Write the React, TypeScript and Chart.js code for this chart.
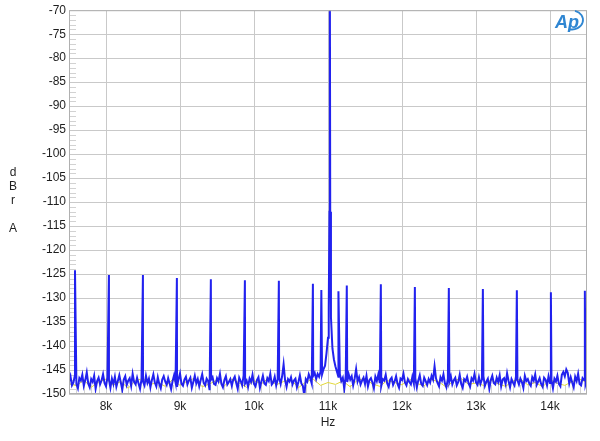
import { useEffect, useRef } from 'react';
import { Chart, registerables } from 'chart.js';

Chart.register(...registerables);

// ---------- data ----------
const xTickHz = [8000, 9000, 10000, 11000, 12000, 13000, 14000];
const xMinHz = 7500;
const xMaxHz = 14500;
const yMinDb = -150;
const yMaxDb = -70;
const yStepDb = 5;
const yAxisTitle = ['d', 'B', 'r', '', 'A'];
const xAxisTitle = 'Hz';

// right channel (blue) noise floor, FFT bins from 7500 Hz every 20 Hz
const blueStartHz = 7500;
const blueStepHz = 20;
const blueNoiseDb = [
  -147.4, -146.3, -148.2, -147.6, -146.1, -147.9, -148.8, -146.7, -147.2, -146.0,
  -148.3, -147.1, -145.5, -147.8, -148.6, -146.9, -147.5, -146.2, -148.9, -147.3,
  -146.6, -148.0, -147.2, -145.9, -147.7, -148.4, -146.5, -147.0, -148.7, -146.8,
  -147.9, -146.4, -148.5, -147.3, -146.1, -147.6, -149.1, -147.0, -146.3, -148.1,
  -147.2, -146.7, -148.3, -145.8, -147.5, -148.0, -146.6, -147.8, -148.9, -146.9,
  -147.4, -148.2, -146.2, -147.7, -146.8, -148.6, -147.1, -145.9, -147.6, -148.4,
  -146.5, -147.9, -148.8, -147.0, -146.3, -147.4, -148.1, -146.7, -147.8, -149.0,
  -147.3, -146.1, -147.6, -148.5, -146.9, -145.7, -147.9, -148.3, -147.0, -146.4,
  -148.0, -147.2, -146.6, -148.7, -147.5, -146.2, -147.8, -146.9, -148.4, -147.1,
  -145.9, -147.7, -148.2, -146.8, -147.3, -149.2, -147.0, -146.5, -147.9, -148.1,
  -146.7, -147.4, -145.8, -147.9, -148.6, -147.1, -146.3, -148.0, -147.5, -146.9,
  -148.3, -147.0, -146.4, -147.7, -148.9, -146.6, -147.3, -148.2, -146.1, -147.8,
  -147.2, -148.5, -146.8, -147.5, -146.0, -147.9, -148.4, -147.1, -146.5, -148.7,
  -147.4, -146.2, -147.8, -148.1, -146.7, -147.3, -145.8, -148.0, -147.6, -146.4,
  -148.2, -147.0, -146.6, -147.9, -146.3, -143.8, -147.1, -148.5, -146.9, -147.4,
  -146.5, -148.0, -147.2, -146.8, -148.6, -147.5, -146.1, -147.8, -148.3, -150.4,
  -146.9, -147.4, -145.9, -146.7, -147.8, -146.2, -145.6, -146.9, -145.8, -146.4,
  -145.3, -145.9, -144.8, -144.1, -141.5, -138.3, -112.0, -134.0, -140.5, -142.8,
  -144.2, -145.3, -146.4, -145.8, -147.3, -146.6, -148.9, -146.1, -147.5, -145.9,
  -147.0, -146.3, -148.2, -146.8, -144.8, -147.4, -146.5, -148.0, -147.2, -146.6,
  -147.9, -146.2, -148.4, -147.1, -146.7, -147.6, -148.8, -146.4, -147.3, -145.9,
  -147.7, -148.3, -146.9, -147.2, -146.0, -147.8, -148.5, -147.0, -146.6, -148.1,
  -147.4, -146.3, -147.9, -148.7, -146.8, -147.1, -145.8, -147.6, -148.2, -146.9,
  -147.5, -148.0, -146.4, -147.8, -146.7, -148.6, -147.2, -146.1, -147.9, -148.3,
  -146.6, -147.3, -148.1, -146.9, -147.6, -146.2, -147.0, -144.2, -146.8, -147.7,
  -148.4, -146.5, -147.2, -145.9, -147.8, -148.6, -146.8, -147.4, -146.3, -148.0,
  -147.1, -146.6, -148.2, -147.5, -146.0, -147.9, -148.7, -146.9, -147.3, -146.4,
  -147.8, -148.5, -146.7, -147.2, -145.8, -147.6, -148.1, -146.5, -147.9, -147.0,
  -146.3, -148.3, -147.4, -146.8, -148.9, -147.1, -146.2, -147.7, -148.0, -146.6,
  -147.5, -146.1, -148.4, -147.0, -146.7, -147.9, -145.7, -147.3, -148.6, -146.9,
  -147.6, -148.2, -146.4, -147.1, -148.0, -146.8, -147.5, -148.7, -146.2, -147.3,
  -146.9, -147.8, -148.3, -146.5, -147.2, -145.9, -148.1, -147.4, -146.7, -147.9,
  -148.5, -146.6, -147.0, -148.2, -146.3, -147.7, -147.1, -148.8, -146.8, -147.4,
  -146.2, -147.9, -148.4, -146.0, -145.4, -146.3, -144.9, -145.6, -147.8, -146.5,
  -147.6, -148.6, -146.4, -147.3, -145.8, -147.9, -148.2, -146.7, -147.1, -148.0,
  -146.9,
];

// jitter sidebands and the main 11.025 kHz tone (Hz, dB)
const spikeHz = [
  7581, 8039, 8499, 8958, 9417, 9877, 10336, 10796, 10910,
  11010, 11025, 11030,
  11141, 11254, 11714, 12174, 12633, 13093, 13552, 14012, 14471,
];
const spikeDb = [
  -124.2, -125.2, -125.2, -125.8, -126.1, -126.3, -126.4, -127.0, -128.3,
  -132.0, -60.0, -112.0,
  -128.6, -127.4, -127.1, -127.7, -127.9, -128.1, -128.4, -128.8, -128.5,
];

// left channel (yellow) noise floor, from 7500 Hz every 100 Hz
const yellowStartHz = 7500;
const yellowStepHz = 100;
const yellowNoiseDb = [
  -147.8, -148.3, -147.1, -148.6, -147.5, -146.9, -148.1, -147.4, -148.8, -147.2,
  -146.8, -148.0, -147.6, -148.4, -147.0, -148.2, -147.3, -146.7, -148.5, -147.9,
  -147.1, -148.3, -146.9, -147.7, -148.6, -147.2, -147.9, -146.6, -148.1, -147.4,
  -147.0, -148.7, -147.5, -146.9, -148.2, -147.6, -148.0, -147.3, -148.5, -147.1,
  -146.8, -147.9, -148.4, -147.2, -147.6, -148.1, -146.9, -147.8, -148.3, -147.0,
  -147.5, -148.6, -147.2, -146.8, -148.0, -147.7, -148.2, -147.1, -147.9, -148.4,
  -147.3, -146.9, -148.1, -147.6, -148.5, -147.0, -147.8, -148.2, -147.4, -146.9,
  -147.6,
];

const FONT = '"Liberation Sans", Arial, sans-serif';
const TEXT = '#1e1e1e';
const GRID = '#c9c9c9';

export default function App() {
  const ref = useRef<HTMLCanvasElement | null>(null);

  useEffect(() => {
    const canvas = ref.current;
    if (!canvas) return;

    const blue = blueNoiseDb
      .map((y, i) => ({ x: blueStartHz + i * blueStepHz, y }))
      .concat(spikeHz.map((x, i) => ({ x, y: spikeDb[i] })))
      .sort((a, b) => a.x - b.x);
    const yellow = yellowNoiseDb.map((y, i) => ({ x: yellowStartHz + i * yellowStepHz, y }));

    const decor = {
      id: 'decor',
      beforeDatasetsDraw(chart: any) {
        const { ctx, chartArea: a, scales } = chart;
        ctx.save();
        ctx.strokeStyle = '#d2d2d2';
        ctx.lineWidth = 1;
        ctx.beginPath();
        for (let d = yMinDb + 1; d < yMaxDb; d++) {
          if (d % yStepDb === 0) continue;
          const y = Math.round(scales.y.getPixelForValue(d)) + 0.5;
          ctx.moveTo(a.left, y);
          ctx.lineTo(a.left + 7, y);
        }
        for (let f = xMinHz + 100; f < xMaxHz; f += 100) {
          if (f % 1000 === 0) continue;
          const x = Math.round(scales.x.getPixelForValue(f)) + 0.5;
          ctx.moveTo(x, a.bottom);
          ctx.lineTo(x, a.bottom - 9);
        }
        ctx.stroke();
        ctx.restore();
      },
      afterDraw(chart: any) {
        const { ctx, chartArea: a } = chart;
        ctx.save();
        ctx.strokeStyle = '#b0b0b0';
        ctx.lineWidth = 1;
        ctx.strokeRect(a.left + 0.5, a.top + 0.5, a.right - a.left - 1, a.bottom - a.top - 1);

        ctx.fillStyle = TEXT;
        ctx.font = `12px ${FONT}`;
        ctx.textAlign = 'center';
        ctx.textBaseline = 'middle';
        yAxisTitle.forEach((t, i) => {
          if (t) ctx.fillText(t, 13, 173 + i * 14);
        });
        ctx.fillText(xAxisTitle, (a.left + a.right) / 2, 423);

        // AP logo
        ctx.fillStyle = '#2f86d2';
        ctx.strokeStyle = '#2f86d2';
        ctx.font = `italic bold 18px ${FONT}`;
        ctx.textAlign = 'left';
        ctx.textBaseline = 'alphabetic';
        ctx.fillText('Ap', 555, 28);
        ctx.lineWidth = 1.8;
        ctx.beginPath();
        ctx.ellipse(572, 20, 11, 9.5, 0, -1.3, 1.8);
        ctx.stroke();
        ctx.restore();
      },
    };

    const chart = new Chart(canvas, {
      type: 'line',
      data: {
        datasets: [
          {
            data: blue,
            borderColor: 'rgba(22,22,238,0.95)',
            borderWidth: 2,
            pointRadius: 0,
            tension: 0,
          },
          {
            data: yellow,
            borderColor: '#e2d83a',
            borderWidth: 1,
            pointRadius: 0,
            tension: 0,
          },
        ],
      },
      options: {
        animation: false,
        responsive: false,
        devicePixelRatio: 1,
        layout: { padding: { left: 0, right: 13, top: 8, bottom: 0 } },
        plugins: { legend: { display: false }, tooltip: { enabled: false } },
        scales: {
          x: {
            type: 'linear',
            min: xMinHz,
            max: xMaxHz,
            afterBuildTicks: (s: any) => {
              s.ticks = xTickHz.map((v) => ({ value: v }));
            },
            afterFit: (s: any) => {
              s.height = 47;
            },
            ticks: {
              callback: (v: any) => `${Number(v) / 1000}k`,
              font: { family: FONT, size: 12 },
              color: TEXT,
              padding: 5,
              maxRotation: 0,
              autoSkip: false,
            },
            grid: { color: GRID, drawTicks: false, lineWidth: 1 },
            border: { display: false },
          },
          y: {
            min: yMinDb,
            max: yMaxDb,
            afterFit: (s: any) => {
              s.width = 69;
            },
            ticks: {
              stepSize: yStepDb,
              font: { family: FONT, size: 12 },
              color: TEXT,
              padding: 3,
            },
            grid: { color: GRID, drawTicks: false, lineWidth: 1 },
            border: { display: false },
          },
        },
      },
      plugins: [decor],
    });

    return () => chart.destroy();
  }, []);

  return (
    <div style={{ position: 'absolute', left: 0, top: 0, width: 600, height: 441, background: '#fff' }}>
      <canvas ref={ref} width={600} height={441} />
    </div>
  );
}
